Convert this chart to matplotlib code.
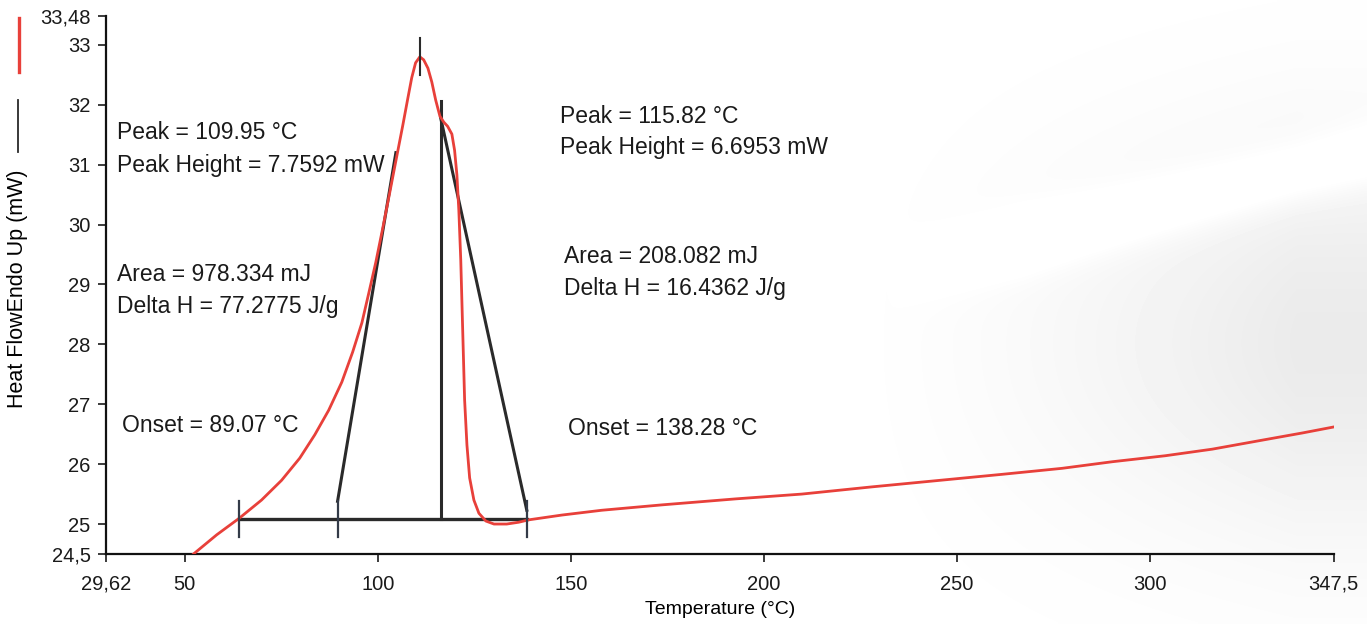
#!/usr/bin/env python3
# DSC thermogram: heat flow vs temperature with peak analysis annotations

import matplotlib
matplotlib.use("Agg")
import matplotlib.pyplot as plt
from matplotlib.lines import Line2D
import numpy as np

plt.rcParams['font.family'] = ['Liberation Sans', 'DejaVu Sans']

# Data
temp = [52.3, 58.3, 64.2, 69.9, 75.1, 79.8, 83.7, 87.3, 90.7, 93.5, 95.9, 97.7,
        99.5, 101.3, 103.1, 104.9, 106.5, 107.8, 108.8, 109.8, 110.9, 111.9,
        113.0, 114.0, 115.0, 116.1, 117.1, 118.1, 119.2, 119.9, 120.5, 121.0,
        121.5, 122.0, 122.5, 123.1, 123.8, 124.9, 126.2, 128.0, 130.1, 133.4,
        136.5, 139.1, 147.7, 158.0, 173.6, 192.7, 209.8, 227.9, 245.6, 261.7,
        277.2, 290.2, 303.9, 316.1, 329.0, 339.4, 347.5]
heat_flow = [24.50, 24.82, 25.10, 25.40, 25.73, 26.10, 26.49, 26.90, 27.37, 27.87,
             28.36, 28.86, 29.37, 29.94, 30.53, 31.13, 31.66, 32.11, 32.45, 32.70,
             32.80, 32.75, 32.61, 32.38, 32.08, 31.81, 31.71, 31.64, 31.51, 31.24,
             30.83, 30.24, 29.41, 28.24, 27.07, 26.32, 25.77, 25.40, 25.18, 25.05,
             25.00, 25.00, 25.03, 25.07, 25.15, 25.23, 25.32, 25.42, 25.50, 25.62,
             25.73, 25.83, 25.93, 26.04, 26.14, 26.25, 26.40, 26.52, 26.62]

baseline_x = [64.2, 138.6]
baseline_y = 25.08
tangent_left_x = [89.6, 104.7]
tangent_left_y = [25.38, 31.2]
tangent_right_x = [116.3, 138.6]
tangent_right_y = [31.78, 25.23]
shoulder_x = 116.3
shoulder_y = [25.08, 32.06]
peak_x = 110.9
peak_tick_y = [32.5, 33.11]
base_ticks = [64.2, 89.6, 138.6]

x_ticks = [29.62, 50, 100, 150, 200, 250, 300, 347.5]
x_labels = ["29,62", "50", "100", "150", "200", "250", "300", "347,5"]
y_ticks = [24.5, 25, 26, 27, 28, 29, 30, 31, 32, 33, 33.48]
y_labels = ["24,5", "25", "26", "27", "28", "29", "30", "31", "32", "33", "33,48"]

annotations = [
    (32.6, 31.53, "Peak = 109.95 °C"),
    (32.6, 30.98, "Peak Height = 7.7592 mW"),
    (32.6, 29.17, "Area = 978.334 mJ"),
    (32.6, 28.64, "Delta H = 77.2775 J/g"),
    (33.7, 26.64, "Onset = 89.07 °C"),
    (147.2, 31.81, "Peak = 115.82 °C"),
    (147.2, 31.28, "Peak Height = 6.6953 mW"),
    (148.2, 29.47, "Area = 208.082 mJ"),
    (148.2, 28.94, "Delta H = 16.4362 J/g"),
    (149.2, 26.60, "Onset = 138.28 °C"),
]

red = '#e8403a'
dark = '#2a2a2a'

fig = plt.figure(figsize=(13.67, 6.24), dpi=100)

# faint grey swoosh of the scanned background
bg = fig.add_axes([0, 0, 1, 1], zorder=-1)
gx, gy = np.meshgrid(np.linspace(0, 1, 400), np.linspace(0, 1, 200))
shade = np.clip((gx - 0.6) / 0.35, 0, 1) ** 1.5 * np.exp(-((gy - 0.45) / 0.32) ** 2)
streak = np.exp(-((gy - (gx * 0.55 + 0.2)) / 0.05) ** 2) * np.clip((gx - 0.65) / 0.1, 0, 1)
shade = np.clip(shade - 0.7 * streak, 0, 1)
bg.imshow(1 - 0.08 * shade, cmap='gray', vmin=0, vmax=1, origin='lower',
          extent=[0, 1, 0, 1], aspect='auto', interpolation='bilinear')
bg.axis('off')

ax = fig.add_axes([0.0775, 0.1122, 0.898, 0.862])

# construction lines
ax.plot(baseline_x, [baseline_y, baseline_y], color=dark, lw=2.4, zorder=2)
ax.plot(tangent_left_x, tangent_left_y, color=dark, lw=2.2, zorder=2)
ax.plot(tangent_right_x, tangent_right_y, color=dark, lw=2.2, zorder=2)
ax.plot([shoulder_x, shoulder_x], shoulder_y, color=dark, lw=2.2, zorder=2)
ax.plot([peak_x, peak_x], peak_tick_y, color=dark, lw=1.5, zorder=4)
for bx in base_ticks:
    ax.plot([bx, bx], [baseline_y - 0.3, baseline_y + 0.3], color='#333b48', lw=1.6, zorder=4)

# heat flow curve
ax.plot(temp, heat_flow, color=red, lw=2.0, zorder=3)

for x, y, s in annotations:
    ax.text(x, y, s, fontsize=16.5, color='#1a1a1a', va='center', ha='left')

ax.set_xlim(29.62, 347.5)
ax.set_ylim(24.5, 33.48)
ax.set_xticks(x_ticks)
ax.set_xticklabels(x_labels)
ax.set_yticks(y_ticks)
ax.set_yticklabels(y_labels)
ax.tick_params(axis='both', direction='out', length=6, width=1.2, labelsize=14.5, colors='#1a1a1a')
ax.tick_params(axis='x', pad=9)
ax.tick_params(axis='y', pad=5)
for side in ['top', 'right']:
    ax.spines[side].set_visible(False)
for side in ['left', 'bottom']:
    ax.spines[side].set_linewidth(1.6)
    ax.spines[side].set_color('#111111')
ax.set_facecolor('none')

ax.set_xlabel("Temperature (°C)", fontsize=14, labelpad=5)

# y label with line keys
fig.text(0.013, 0.538, "Heat FlowEndo Up (mW)", rotation=90, fontsize=15.5,
         va='center', ha='center')
fig.add_artist(Line2D([0.014, 0.014], [1 - 18 / 624, 1 - 72 / 624], color=red, lw=2.4))
fig.add_artist(Line2D([0.013, 0.013], [1 - 100 / 624, 1 - 152 / 624], color=dark, lw=1.3))

fig.savefig("out.png", dpi=100)
